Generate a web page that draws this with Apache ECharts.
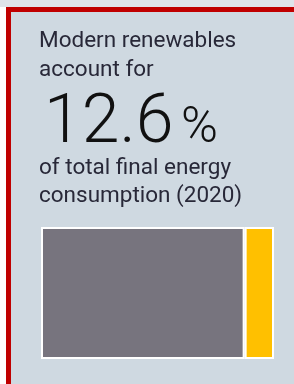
<!DOCTYPE html>
<html>
<head>
    <meta charset="utf-8" />
    <script type="text/javascript" src="https://cdn.jsdelivr.net/npm/echarts@6/dist/echarts.min.js"></script>
    <style>
      body { margin: 0; background: #ffffff; }
      #main { width: 294px; height: 384px; }
    </style>
</head>
<body>
<div id="main"></div>
<script>
// share of total final energy consumption (2020)
var categories = ['2020'];
var renewShare = [12.6];
var otherShare = [87.4];
var headLines = ['Modern renewables', 'account for'];
var footLines = ['of total final energy', 'consumption (2020)'];

var dom = document.getElementById('main');
var myChart = echarts.init(dom, null, { renderer: 'canvas' });
var font = 'Roboto, "Liberation Sans", sans-serif';

var option = {
  animation: false,
  backgroundColor: '#ffffff',
  graphic: [
    // top strip
    { type: 'rect', z: 0, shape: { x: 0, y: 0, width: 294, height: 7 }, style: { fill: '#dfe4ea' } },
    // red frame + panel
    { type: 'rect', z: 0, shape: { x: 6, y: 7, width: 300, height: 400 }, style: { fill: '#c00000' } },
    { type: 'rect', z: 0, shape: { x: 11, y: 12, width: 300, height: 400 }, style: { fill: '#cfd9e1' } },
    {
      type: 'text', z: 5, left: 39, top: 27,
      style: { text: headLines.join('\n'), font: '22.5px ' + font, lineHeight: 29, fill: '#282838' }
    },
    {
      type: 'text', z: 5, left: 44, top: 91,
      style: { text: renewShare[0].toFixed(1), font: '300 68px ' + font, fill: '#111111' }
    },
    {
      type: 'text', z: 5, left: 181, top: 104,
      style: { text: '%', font: '300 50px ' + font, fill: '#111111' }
    },
    {
      type: 'text', z: 5, left: 39, top: 154,
      style: { text: footLines.join('\n'), font: '22.5px ' + font, lineHeight: 28, fill: '#282838' }
    }
  ],
  grid: { left: 41, right: 20, top: 227, bottom: 25, show: true, backgroundColor: '#ffffff', borderWidth: 0 },
  xAxis: { type: 'value', min: 0, max: 100, show: false },
  yAxis: { type: 'category', data: categories, show: false },
  series: [
    {
      name: 'Other', type: 'bar', stack: 'a', barWidth: '100%', data: otherShare,
      itemStyle: { color: '#77747e', borderColor: '#ffffff', borderWidth: 2 }
    },
    {
      name: 'Modern renewables', type: 'bar', stack: 'a', barWidth: '100%', data: renewShare,
      itemStyle: { color: '#ffc000', borderColor: '#ffffff', borderWidth: 2 }
    }
  ]
};

if (option && typeof option === 'object') {
  myChart.setOption(option);
}
</script>
</body>
</html>
